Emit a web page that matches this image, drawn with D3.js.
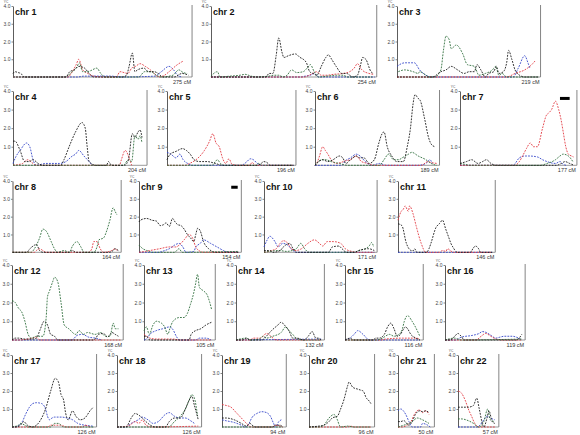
<!DOCTYPE html>
<html><head><meta charset="utf-8">
<script src="https://cdn.jsdelivr.net/npm/d3@7"></script>
<style>html,body{margin:0;padding:0;background:#fff}svg{display:block}</style>
</head><body>
<script>
// ---------- DATA ----------
const chromosomes = ["1","2","3","4","5","6","7","8","9","10","11","12","13","14","15","16","17","18","19","20","21","22"];
const lengthsCM = [275,254,219,204,196,189,177,164,154,171,146,168,105,132,116,119,126,126,94,96,50,57];
const yTickValues = [1,2,3,4];
const yTickLabels = ["1.0","2.0","3.0","4.0"];
const seriesNames = ["blue","red","green","black"];

const chr1_black=[[0,0.2],[3,0.3],[8,0.25],[12,0.2],[18,0],[82,0],[88,0.3],[95,0.4],[102,0.6],[111,0.5],[118,0.2],[125,0],[170,0],[176,0.1],[180,0.6],[185,1.35],[189,0.3],[193,0.4],[203,0.5],[210,0.3],[219,0.3],[225,0.2],[232,0],[250,0],[262,0.2],[272,0.1]];
const chr1_green=[[0,0],[80,0],[92,0.3],[98,0.5],[103,0.8],[108,0.3],[115,0.3],[120,0.35],[130,0.5],[136,0.2],[143,0],[195,0],[204,0.3],[214,0.3],[222,0.1],[230,0],[248,0.1],[257,0.4],[264,0.25],[270,0.2]];
const chr1_red=[[0,0],[85,0],[92,0.3],[98,0.7],[102,1.0],[108,0.4],[116,0.2],[125,0.05],[140,0],[160,0],[166,0.3],[172,0.25],[178,0.2],[184,0.5],[190,0.6],[197,0.75],[205,0.6],[213,0.4],[219,0.2],[226,0],[235,0.1],[242,0.3],[255,0.7],[264,0.9]];
const chr1_blue=[[0,0],[100,0],[110,0.05],[150,0.05],[170,0],[220,0.05],[230,0.3],[242,0.6],[249,0.4],[255,0.1],[262,0]];

const chr2_black=[[0,0],[85,0],[90,0.2],[96,0.2],[101,1.2],[105,2.2],[110,1.4],[113,1.1],[120,1.2],[131,1.3],[138,1.1],[143,1.0],[148,0.8],[153,0.3],[158,0.2],[164,0.1],[171,0.6],[178,1.1],[182,1.25],[187,1.0],[194,0.6],[203,0.2],[210,0.2],[220,0],[227,0.1],[232,0.7],[235,1.1],[240,1.0],[248,0.3],[252,0.2]];
const chr2_green=[[0,0.05],[10,0.3],[14,0],[30,0.05],[45,0.1],[53,0.15],[62,0.05],[70,0],[90,0.05],[98,0.1],[105,0.1],[112,0],[118,0.1],[125,0.4],[133,0.25],[143,0.3],[149,0.5],[154,0.7],[160,0.3],[167,0],[180,0.05],[195,0.1],[205,0.1],[212,0],[250,0]];
const chr2_red=[[0,0],[145,0],[152,0.1],[158,0.2],[164,0.3],[171,0.1],[180,0.1],[190,0.15],[205,0.2],[215,0.3],[222,0.5],[227,0.75],[234,0.4],[245,0.2],[252,0.15]];
const chr2_blue=[[0,0],[140,0],[146,0.05],[154,0.1],[160,0.2],[167,0],[254,0]];

const chr3_green=[[2,0.3],[12,0.4],[25,0.3],[33,0.2],[35,0.3],[45,0.1],[50,0],[58,0],[68,0.4],[72,1.5],[76,2.3],[81,2.1],[84,1.6],[92,1.8],[102,1.3],[109,0.7],[120,0.6],[127,0.1],[137,0.2],[148,0.4],[153,0.6],[158,0.1],[163,0.2],[170,0],[219,0]];
const chr3_black=[[0,0],[55,0],[68,0.3],[76,0.4],[84,0.6],[94,0.4],[104,0.2],[112,0.3],[120,0.3],[124,0.7],[130,0.4],[137,0],[142,0.2],[150,0.3],[154,0.6],[158,0.2],[165,0.3],[170,0.8],[173,1.5],[178,1.0],[183,0.4],[190,0.1],[198,0],[219,0]];
const chr3_blue=[[0,0.6],[12,0.8],[27,0.8],[35,0.4],[45,0.1],[52,0],[180,0],[188,0.5],[198,1.2],[203,0.8],[206,0.5]];
const chr3_red=[[0,0],[170,0],[183,0.2],[198,0.4],[209,0.7],[214,0.9]];

const chr4_black=[[0,1.3],[3,1.3],[11,0.8],[18,0.2],[25,0.2],[31,0.3],[39,0.1],[46,0],[74,0],[79,0.3],[87,1.0],[97,1.8],[107,2.3],[112,2.0],[115,1.0],[118,0.2],[128,0],[145,0],[148,0.2],[153,0],[173,0],[179,0.3],[185,1.7],[189,1.5],[194,1.8],[197,1.9],[200,1.5]];
const chr4_green=[[0,0],[171,0],[179,0.3],[184,0.2],[189,1.6],[194,1.4],[197,1.6],[200,1.2]];
const chr4_blue=[[0,0.1],[5,0.5],[11,0.8],[21,1.2],[26,1.0],[31,0.3],[36,0],[51,0.1],[72,0.1],[82,0.2],[92,0.5],[97,0.6],[102,0.8],[110,0.5],[118,0.2],[123,0]];
const chr4_red=[[0,0],[15,0.1],[18,0.2],[23,0.3],[31,0.1],[36,0],[165,0],[168,0.3],[174,0.8],[181,0.3],[184,0]];

const chr5_black=[[0,0.3],[5,0.6],[14,0.75],[24,0.9],[30,0.8],[36,0.6],[42,0.3],[50,0.2],[62,0.2],[75,0.1],[86,0],[140,0],[146,0.1],[150,0.2],[155,0.15],[160,0],[196,0]];
const chr5_blue=[[0,0.7],[6,0.6],[14,0.4],[20,0.6],[25,0.3],[32,0.1],[40,0],[115,0],[124,0.2],[129,0.35],[134,0.3],[140,0.1],[145,0],[196,0]];
const chr5_red=[[0,0],[28,0],[35,0.1],[45,0.3],[58,0.8],[66,1.3],[71,1.7],[76,1.2],[81,1.0],[86,0.4],[91,0.1],[96,0.35],[101,0.05],[110,0],[128,0],[132,0.15],[137,0],[196,0]];
const chr5_green=[[0,0],[70,0],[75,0.2],[78,0.3],[83,0.1],[88,0],[138,0],[142,0.1],[147,0],[196,0]];

const chr6_red=[[0,0],[4,0.2],[7,0.5],[12,1.0],[16,0.8],[20,0.6],[25,0.3],[33,0.1],[40,0.15],[48,0.25],[55,0.3],[64,0.5],[72,0.2],[82,0.1],[90,0],[165,0],[175,0.2],[180,0.15],[189,0.1]];
const chr6_black=[[0,0],[6,0.2],[12,0.3],[20,0.2],[28,0.3],[38,0.5],[43,0.4],[48,0.1],[55,0.3],[64,0.5],[69,0.4],[76,0.4],[84,0.1],[92,0.3],[99,1.2],[104,1.7],[107,1.8],[112,1.0],[119,0.5],[127,0.2],[137,0.2],[143,1.0],[148,2.0],[152,3.3],[155,3.8],[160,3.6],[163,3.5],[170,2.5],[176,1.5],[181,1.1],[186,1.0]];
const chr6_green=[[0,0],[5,0.2],[10,0.3],[17,0.3],[25,0.2],[38,0.1],[50,0],[100,0],[107,0.3],[114,0.6],[122,0.3],[130,0.3],[135,0.4],[145,0.6],[150,0.7],[160,0.5],[172,0.3],[180,0.1],[189,0]];
const chr6_blue=[[0,0],[42,0],[46,0.2],[55,0.4],[64,0.6],[70,0.5],[78,0.2],[88,0],[100,0.1],[110,0],[160,0],[172,0.1],[178,0.3],[182,0.1]];

const chr7_black=[[0,0.1],[10,0.2],[18,0.3],[28,0.1],[35,0.2],[41,0.3],[48,0.1],[56,0],[150,0],[157,0.1],[163,0.2],[170,0.1],[177,0]];
const chr7_red=[[0,0],[85,0],[92,0.2],[97,0.5],[103,0.9],[109,1.2],[114,1.0],[120,1.0],[128,2.0],[134,2.7],[137,2.8],[142,3.0],[148,3.45],[153,3.0],[157,2.4],[160,1.8],[164,1.0],[168,0.6],[173,0.5],[176,0.45]];
const chr7_blue=[[0,0],[82,0],[92,0.4],[100,0.5],[107,0.5],[120,0.45],[128,0.3],[135,0.2],[148,0.1],[155,0.2],[160,0.05],[165,0]];
const chr7_green=[[0,0.1],[8,0.05],[15,0],[125,0],[135,0.1],[143,0.2],[148,0.3],[155,0.5],[160,0.6],[168,0.5],[175,0.2]];

const chr8_black=[[0,0],[22,0],[27,0.2],[34,0.4],[37,0.45],[42,0.1],[47,0],[88,0],[93,0.1],[98,0],[150,0],[156,0.1],[159,0.2],[164,0.1]];
const chr8_green=[[0,0],[29,0],[34,0.2],[42,0.8],[47,1.3],[52,1.2],[60,0.6],[65,0.2],[70,0],[80,0.1],[88,0],[93,0.35],[100,0.6],[106,0.3],[111,0],[126,0],[131,0.3],[134,0.7],[141,0.8],[146,1.2],[151,1.8],[156,2.5],[159,2.3],[162,2.1]];
const chr8_red=[[0,0],[34,0],[37,0.1],[42,0.2],[47,0.1],[52,0],[118,0],[123,0.2],[126,0.6],[131,0.6],[136,0.2],[141,0],[154,0.1],[159,0.2],[162,0.1]];

const chr9_black=[[0,1.7],[2,1.8],[12,1.9],[20,1.8],[27,1.75],[33,1.5],[38,1.55],[42,1.65],[47,1.45],[52,1.9],[56,1.7],[60,1.55],[65,1.5],[70,1.3],[75,1.0],[80,0.8],[85,0.6],[88,1.0],[91,1.35],[95,1.2],[100,0.6],[108,0.2],[118,0],[154,0]];
const chr9_red=[[0,0],[10,0.05],[17,0.1],[32,0.2],[47,0.3],[57,0.3],[65,0.5],[70,0.7],[78,1.0],[83,0.8],[88,0.3],[95,0.05],[100,0],[154,0]];
const chr9_blue=[[0,0],[30,0],[40,0.1],[47,0.2],[55,0.4],[62,0.5],[68,0.3],[73,0],[85,0.05],[88,0.3],[95,0.5],[100,0.7],[111,0.5],[121,0.3],[131,0.1],[139,0],[154,0]];
const chr9_green=[[0,0.4],[6,0.2],[12,0.1],[20,0],[55,0],[62,0.2],[67,0],[154,0.05]];

const chr10_blue=[[0,0.3],[5,0.7],[9,0.9],[17,0.6],[22,0.3],[29,0.5],[37,0.4],[45,0.1],[50,0],[171,0]];
const chr10_red=[[0,0],[8,0.05],[12,0.1],[19,0.2],[25,0.5],[30,0.65],[37,0.5],[42,0.2],[50,0.1],[58,0.2],[68,0.5],[78,0.7],[86,0.5],[91,0.35],[98,0.6],[108,0.6],[119,0.5],[126,0.2],[136,0.05],[146,0],[171,0]];
const chr10_black=[[0,0.1],[9,0.1],[14,0],[25,0.1],[30,0.3],[40,0.5],[45,0.2],[50,0],[100,0],[106,0.3],[116,0.35],[121,0.2],[128,0],[140,0],[147,0.1],[162,0.2],[171,0.1]];
const chr10_green=[[0,0],[24,0.1],[35,0.05],[50,0.2],[57,0.5],[63,0.2],[70,0],[140,0],[147,0.1],[157,0.2],[163,0.35],[167,0.55],[170,0.3]];

const chr11_red=[[0,1.8],[5,2.3],[8,2.4],[11,2.6],[16,2.3],[18,2.6],[23,2.2],[28,1.5],[36,0.5],[43,0],[64,0],[69,0.1],[74,0.05],[77,0.2],[81,0.1],[86,0],[146,0]];
const chr11_black=[[0,1.6],[6,1.5],[13,0.5],[21,0.1],[24,0.1],[26,0.2],[29,0],[44,0],[48,0.2],[51,0.5],[59,1.4],[64,1.6],[69,1.8],[74,1.3],[79,0.8],[82,0.5],[85,0.3],[92,0],[112,0],[117,0.25],[120,0.35],[125,0.2],[128,0],[146,0]];
const chr11_blue=[[0,0],[146,0]];

const chr12_green=[[0,2.1],[5,2.0],[10,1.7],[15,1.5],[20,1.0],[25,0.3],[30,0.1],[38,0.2],[48,0.2],[53,1.2],[55,2.3],[58,2.6],[63,3.1],[66,3.35],[71,3.1],[76,2.0],[81,0.8],[88,0.6],[99,0.3],[104,0.5],[111,0.3],[117,0.4],[129,0.3],[137,0.4],[145,0.2],[152,0.2],[157,0.9],[160,0.6],[165,0.6]];
const chr12_black=[[0,0],[5,0.1],[10,0.1],[20,0.05],[30,0.05],[38,0.1],[43,0.5],[50,1.0],[55,0.8],[60,0.3],[66,0.2],[71,0],[125,0],[130,0.1],[134,0.3],[142,0.35],[148,0.15],[155,0.4],[160,0.3],[165,0.2]];
const chr12_red=[[0,0],[10,0],[25,0.05],[38,0.15],[43,0],[168,0]];
const chr12_blue=[[0,0],[93,0],[101,0.25],[109,0.3],[119,0.15],[129,0.1],[134,0.05],[139,0]];

const chr13_green=[[0,0.5],[4,0.7],[8,0.3],[14,0.8],[19,1.0],[27,0.9],[32,0.7],[37,0.3],[40,0.6],[45,1.0],[55,1.2],[62,1.2],[67,1.4],[72,1.9],[77,2.5],[80,3.0],[83,3.5],[86,2.8],[93,2.6],[98,2.4],[102,2.0],[105,1.6]];
const chr13_blue=[[0,0],[5,0.1],[9,0.3],[19,0.5],[29,0.6],[40,0.7],[45,0.55],[50,0.2],[55,0],[80,0],[86,0.1],[96,0.1],[104,0]];
const chr13_black=[[0,0.2],[4,0.2],[9,0],[70,0],[73,0.3],[80,0.5],[88,0.6],[96,0.8],[105,0.95]];
const chr13_red=[[0,0.3],[4,0.2],[9,0.1],[20,0.05],[45,0.05],[55,0],[105,0]];

const chr14_black=[[0,0],[10,0],[16,0.1],[22,0],[40,0],[47,0.2],[55,0.5],[65,0.8],[70,0.95],[75,0.8],[82,0.5],[88,0.1],[95,0.1],[105,0],[112,0.2],[118,0.45],[124,0.1],[128,0.1],[132,0]];
const chr14_green=[[0,0],[16,0.1],[22,0],[36,0.05],[42,0.2],[47,0.1],[57,0.2],[70,0.4],[77,0.7],[82,0.5],[88,0.3],[93,0.1],[103,0],[132,0]];
const chr14_red=[[0,0],[22,0],[27,0.1],[37,0.1],[42,0.2],[47,0.35],[54,0.2],[62,0],[132,0]];
const chr14_blue=[[0,0],[132,0.05]];

const chr15_blue=[[0,0],[8,0.1],[14,0.3],[20,0.5],[28,0.3],[38,0],[116,0]];
const chr15_black=[[0,0],[8,0.1],[13,0],[43,0],[48,0.1],[53,0.1],[61,0.3],[66,0.7],[69,0.85],[71,0.9],[76,0.6],[81,0.2],[86,0.3],[91,0.6],[94,0.7],[97,0.6],[102,0.3],[110,0.1],[116,0]];
const chr15_green=[[0,0],[50,0],[58,0.1],[69,0.3],[76,0.2],[84,0.3],[89,0.6],[92,1.0],[97,1.3],[104,1.0],[112,0.5],[116,0.2]];
const chr15_red=[[0,0],[55,0],[63,0.05],[89,0.1],[110,0.1],[116,0.05]];

const chr16_black=[[0,0],[8,0],[15,0.2],[20,0.35],[25,0.2],[30,0],[110,0],[115,0.1],[119,0.3]];
const chr16_blue=[[0,0],[17,0],[25,0.15],[43,0.25],[53,0.35],[58,0.45],[64,0.4],[69,0.3],[79,0.1],[85,0.15],[92,0.2],[104,0.2],[114,0.1],[119,0]];
const chr16_red=[[0,0],[48,0],[56,0.2],[63,0.35],[71,0.2],[79,0.05],[89,0],[119,0]];
const chr16_green=[[0,0],[15,0.1],[25,0],[119,0.05]];

const chr17_blue=[[0,0],[5,0],[16,0.3],[21,0.7],[27,1.1],[32,1.3],[38,1.35],[46,1.3],[52,1.0],[55,0.6],[58,0.4],[62,0.5],[66,0.55],[77,0.55],[85,0.5],[94,0.4],[102,0.2],[113,0.1],[125,0.05]];
const chr17_black=[[0,0],[5,0],[13,0.1],[18,0.3],[24,0.1],[32,0],[38,0.1],[46,0.5],[52,1.0],[60,2.0],[67,2.7],[72,2.5],[76,1.8],[80,1.5],[83,0.8],[87,0.4],[94,0.9],[99,0.6],[106,0.4],[113,0.5],[121,0.9],[126,1.1]];
const chr17_green=[[0,0],[10,0.1],[13,0.2],[20,0.1],[26,0],[60,0],[66,0.2],[72,0.2],[80,0],[126,0]];
const chr17_red=[[0,0],[55,0],[60,0.1],[75,0.1],[85,0],[110,0],[113,0.1],[121,0]];

const chr18_black=[[0,0],[14,0],[22,0.5],[28,0.75],[36,0.6],[42,0.4],[48,0.2],[59,0],[75,0],[81,0.3],[89,0.5],[98,0.5],[106,1.0],[112,1.5],[116,1.7],[120,1.2],[126,0.4]];
const chr18_green=[[0,0],[80,0],[89,0.3],[98,0.6],[106,1.0],[112,1.5],[116,1.8],[120,1.6],[125,0.6]];
const chr18_blue=[[0,0],[14,0],[22,0.2],[33,0.4],[39,0.55],[48,0.4],[56,0.2],[64,0.3],[75,0.7],[81,0.8],[89,0.6],[98,0.5],[106,0.5],[114,0.35],[120,0.2]];
const chr18_red=[[0,0],[17,0.05],[20,0.1],[28,0.3],[34,0.2],[39,0.4],[45,0.1],[53,0],[126,0.05]];

const chr19_red=[[0,1.25],[6,1.2],[14,1.1],[22,0.8],[30,0.5],[38,0.2],[46,0],[78,0],[83,0.1],[90,0.05],[94,0]];
const chr19_black=[[0,0.5],[6,0.5],[19,0.4],[30,0.2],[38,0.05],[43,0.2],[51,0],[78,0],[83,0.1],[90,0.1],[94,0]];
const chr19_blue=[[0,0.4],[6,0.35],[19,0.25],[30,0.1],[36,0],[42,0.2],[46,0.5],[54,0.75],[62,0.85],[69,0.8],[75,0.6],[80,0.2],[83,0],[88,0.3],[92,0.4]];
const chr19_green=[[0,0],[94,0]];

const chr20_black=[[0,0],[15,0.05],[23,0.1],[31,0.3],[36,0.5],[44,0.6],[49,1.0],[54,1.5],[60,2.3],[62,2.5],[68,2.2],[76,2.1],[80,2.05],[84,2.0],[89,1.6],[92,1.5],[96,1.3]];
const chr20_green=[[0,0],[15,0],[23,0.1],[31,0.5],[39,0.7],[41,0.6],[44,0.4],[47,0.1],[49,0],[60,0.05],[70,0],[96,0]];
const chr20_red=[[0,0],[60,0],[64,0.05],[70,0],[96,0]];

const chr21_blue=[[0,0.9],[4,1.0],[12,0.7],[17,0.3],[22,0],[35,0],[38,0.2],[46,0.1],[50,0]];
const chr21_black=[[0,0.3],[4,0.3],[9,0.35],[17,0.1],[22,0.3],[27,0.7],[33,0.9],[38,0.85],[43,0.9],[48,0.8]];
const chr21_red=[[0,0],[6,0],[14,0.1],[20,0.3],[27,0.8],[33,0.95],[38,0.8],[43,0.9],[48,0.7]];
const chr21_green=[[0,0],[9,0.1],[17,0.2],[22,0.3],[30,0.5],[38,0.4],[48,0.2]];

const chr22_red=[[0,2.0],[5,1.9],[11,1.5],[16,1.0],[21,0.6],[26,0.2],[32,0],[57,0]];
const chr22_black=[[0,1.1],[5,1.1],[16,1.1],[24,1.2],[29,1.6],[33,1.0],[37,0.3],[40,0],[45,0.5],[48,0.9],[53,0.3],[57,0.2]];
const chr22_green=[[0,0.45],[5,0.45],[16,0.35],[24,0.2],[32,0],[40,0.3],[46,1.0],[50,0.4],[57,0.3]];
const chr22_blue=[[0,0],[30,0],[34,0.1],[40,0.4],[45,0.6],[50,0.5],[57,0.4]];

// marked regions (black bars): chromosome, start cM, end cM, level
const barChr = ["7","9"];
const barStart = [155,143];
const barEnd = [170,153];
const barLevel = [3.6,3.65];

// ---------- LAYOUT (positions, not data) ----------
const rows = [["1","2","3"],["4","5","6","7"],["8","9","10","11"],["12","13","14","15","16"],["17","18","19","20","21","22"]];
const rowTop = [6,91,181,265,355];
const rowBase = [77,165.3,252.3,340,427];
const axisX = {"1":13,"2":211,"3":397,"4":13,"5":167,"6":315,"7":460,"8":12.5,"9":139,"10":264,"11":398,
  "12":12,"13":144,"14":236,"15":345,"16":445,"17":12,"18":117,"19":222,"20":309,"21":398,"22":458};
const pxPerCM = 0.634, borderPad = 4.7, dataPxPerCM = 0.645;
const colors = {black:"#1a1a1a", green:"#2f6e3c", red:"#e23a42", blue:"#3345c8"};
const FONT = "'Liberation Sans', Arial, Helvetica, sans-serif";

// build lookup from the named arrays
const allSeries = {
 "1":{black:chr1_black,green:chr1_green,red:chr1_red,blue:chr1_blue},
 "2":{black:chr2_black,green:chr2_green,red:chr2_red,blue:chr2_blue},
 "3":{black:chr3_black,green:chr3_green,red:chr3_red,blue:chr3_blue},
 "4":{black:chr4_black,green:chr4_green,red:chr4_red,blue:chr4_blue},
 "5":{black:chr5_black,green:chr5_green,red:chr5_red,blue:chr5_blue},
 "6":{black:chr6_black,green:chr6_green,red:chr6_red,blue:chr6_blue},
 "7":{black:chr7_black,green:chr7_green,red:chr7_red,blue:chr7_blue},
 "8":{black:chr8_black,green:chr8_green,red:chr8_red},
 "9":{black:chr9_black,green:chr9_green,red:chr9_red,blue:chr9_blue},
 "10":{black:chr10_black,green:chr10_green,red:chr10_red,blue:chr10_blue},
 "11":{black:chr11_black,red:chr11_red,blue:chr11_blue},
 "12":{black:chr12_black,green:chr12_green,red:chr12_red,blue:chr12_blue},
 "13":{black:chr13_black,green:chr13_green,red:chr13_red,blue:chr13_blue},
 "14":{black:chr14_black,green:chr14_green,red:chr14_red,blue:chr14_blue},
 "15":{black:chr15_black,green:chr15_green,red:chr15_red,blue:chr15_blue},
 "16":{black:chr16_black,green:chr16_green,red:chr16_red,blue:chr16_blue},
 "17":{black:chr17_black,green:chr17_green,red:chr17_red,blue:chr17_blue},
 "18":{black:chr18_black,green:chr18_green,red:chr18_red,blue:chr18_blue},
 "19":{black:chr19_black,green:chr19_green,red:chr19_red,blue:chr19_blue},
 "20":{black:chr20_black,green:chr20_green,red:chr20_red},
 "21":{black:chr21_black,green:chr21_green,red:chr21_red,blue:chr21_blue},
 "22":{black:chr22_black,green:chr22_green,red:chr22_red,blue:chr22_blue}
};

const svg = d3.select("body").append("svg").attr("width",580).attr("height",435)
  .style("font-family",FONT);
svg.append("rect").attr("width",580).attr("height",435).attr("fill","#fff");

rows.forEach((row, ri) => {
  row.forEach(chr => {
    const idx = chromosomes.indexOf(chr);
    const len = lengthsCM[idx];
    const ax = axisX[chr];
    const right = ax + len*pxPerCM + borderPad;
    const top = rowTop[ri], base = rowBase[ri];
    const x = d3.scaleLinear().domain([0,len]).range([ax, ax + len*dataPxPerCM]);
    const y = d3.scaleLinear().domain([0,4]).range([base, top]);
    const g = svg.append("g");

    // baseline & right border
    g.append("line").attr("x1",ax).attr("x2",right).attr("y1",base).attr("y2",base)
      .attr("stroke","#555").attr("stroke-width",0.6);
    g.append("line").attr("x1",right).attr("x2",right).attr("y1",top-1).attr("y2",base)
      .attr("stroke","#777").attr("stroke-width",0.9);

    // y axis
    const axis = d3.axisLeft(y).tickValues(yTickValues)
      .tickFormat(d=>yTickLabels[yTickValues.indexOf(d)]).tickSize(1.5).tickSizeOuter(0).tickPadding(1);
    const ag = g.append("g").attr("transform",`translate(${ax},0)`).call(axis);
    ag.select(".domain").attr("stroke","#333").attr("stroke-width",0.8);
    ag.selectAll(".tick line").attr("stroke","#333").attr("stroke-width",0.6);
    ag.selectAll(".tick text").attr("font-size",5).attr("fill","#444").attr("font-family",FONT);
    // tiny axis caption
    g.append("text").attr("x",ax-7).attr("y",top-2.6).attr("font-size",3.2).attr("fill","#555")
      .attr("text-anchor","middle").text("YC");

    // series
    const line = d3.line().x(d=>x(d[0])).y(d=>y(Math.max(0,d[1]))).curve(d3.curveMonotoneX);
    seriesNames.forEach(s => {
      const data = allSeries[chr][s];
      if (!data) return;
      g.append("path").attr("d", line(data)).attr("fill","none")
        .attr("stroke",colors[s]).attr("stroke-width",0.9)
        .attr("stroke-dasharray","1.8,1.2");
    });

    // marked regions
    barChr.forEach((bc,i) => {
      if (bc !== chr) return;
      g.append("rect").attr("x",x(barStart[i])).attr("width",x(barEnd[i])-x(barStart[i]))
        .attr("y",y(barLevel[i])-1.5).attr("height",3).attr("fill","#000");
    });

    // labels
    g.append("text").attr("x",ax+2).attr("y",top+9).attr("font-size",9).attr("font-weight","bold")
      .attr("fill","#111").text("chr " + chr);
    g.append("text").attr("x",right-1).attr("y",base+6.5).attr("font-size",5.5).attr("fill","#333")
      .attr("text-anchor","end").text(len + " cM");
  });
});
</script>
</body></html>
